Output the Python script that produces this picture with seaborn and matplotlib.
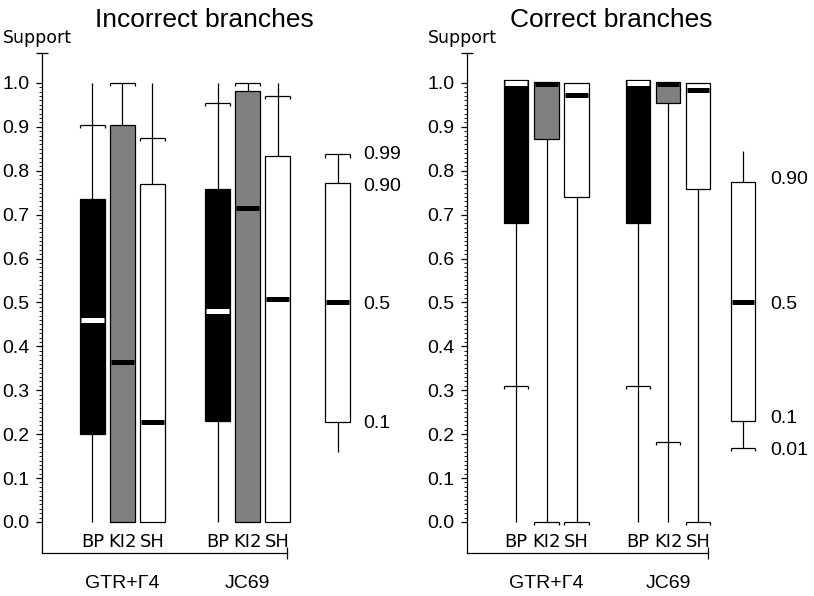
import numpy as np
import seaborn as sns
import matplotlib.pyplot as plt
from matplotlib.ticker import MultipleLocator, FixedLocator

# ---- data (support percentiles per method) ----
methods = ["BP", "KI2", "SH"]
models = ["GTR+Γ4", "JC69"]

# incorrect branches (order: GTR BP, KI2, SH, JC69 BP, KI2, SH)
inc_min = [0.0, 0.0, 0.0, 0.0, 0.0, 0.0]
inc_max = [1.0, 1.0, 1.0, 1.0, 1.0, 1.0]
inc_p01 = [None, None, None, None, None, None]
inc_p10 = [0.20, 0.0, 0.0, 0.23, 0.0, 0.0]
inc_p50 = [0.46, 0.365, 0.228, 0.48, 0.715, 0.508]
inc_p90 = [0.735, 0.905, 0.77, 0.758, 0.982, 0.833]
inc_p99 = [0.905, 1.0, 0.875, 0.955, 1.0, 0.97]

# correct branches
cor_min = [0.0, 0.0, 0.0, 0.0, 0.0, 0.0]
cor_max = [1.0, 1.0, 1.0, 1.0, 1.0, 1.0]
cor_p01 = [0.31, 0.0, 0.0, 0.31, 0.183, 0.0]
cor_p10 = [0.68, 0.872, 0.74, 0.68, 0.955, 0.758]
cor_p50 = [1.0, 0.998, 0.973, 1.0, 0.998, 0.984]
cor_p90 = [1.007, 1.003, 1.0, 1.007, 1.003, 1.0]
cor_p99 = [None, None, None, None, None, None]

# key boxes (percentile legend)
key_inc = dict(lo=0.16, hi=0.837, p01=None, p10=0.228, p50=0.50, p90=0.772, p99=0.837)
key_inc_labels = [(0.836, "0.99"), (0.765, "0.90"), (0.496, "0.5"), (0.225, "0.1")]
key_cor = dict(lo=0.168, hi=0.845, p01=0.168, p10=0.23, p50=0.50, p90=0.775, p99=None)
key_cor_labels = [(0.78, "0.90"), (0.496, "0.5"), (0.235, "0.1"), (0.163, "0.01")]

# ---- style ----
sns.set_style("ticks")
plt.rcParams["font.family"] = ["Liberation Sans", "DejaVu Sans"]
plt.rcParams.update({"text.color": "black", "axes.labelcolor": "black",
                     "xtick.color": "black", "ytick.color": "black",
                     "axes.edgecolor": "black"})

fills = ["black", "#808080", "white"]
med_cols = ["white", "black", "black"]


def cap(ax, x, y, w):
    ax.hlines(y, x - w / 2, x + w / 2, color="black", lw=0.9, zorder=1.5)
    ax.vlines([x - w / 2, x + w / 2], y - 0.007, y, color="black", lw=0.9, zorder=1.5)


def draw_box(ax, x, w, lo, hi, p01, p10, p50, p90, p99, fc, mc):
    ax.vlines(x, lo, hi, color="black", lw=0.9, zorder=1)
    ax.bar(x, p90 - p10, bottom=p10, width=w, color=fc, edgecolor="black",
           linewidth=0.9, zorder=2)
    ax.hlines(p50, x - w / 2 + 0.04, x + w / 2 - 0.04, color=mc, lw=3.6, zorder=3)
    for c in (p01, p99):
        if c is not None:
            cap(ax, x, c, w)


def panel(ax, xs, key_x, label_x, w, lo, hi, p01, p10, p50, p90, p99,
          key, key_labels, xlim):
    for i, x in enumerate(xs):
        k = i % 3
        draw_box(ax, x, w, lo[i], hi[i], p01[i], p10[i], p50[i], p90[i], p99[i],
                 fills[k], med_cols[k])
        ax.text(x, -0.057, methods[k], ha="center", va="baseline", fontsize=13,
                family=["Liberation Sans Narrow", "DejaVu Sans"])
    for g in range(2):
        ax.text(xs[3 * g + 1], -0.150, models[g], ha="center", va="baseline",
                fontsize=14)
    draw_box(ax, key_x, w, key["lo"], key["hi"], key["p01"], key["p10"],
             key["p50"], key["p90"], key["p99"], "white", "black")
    for v, t in key_labels:
        ax.text(label_x, v, t, ha="left", va="center", fontsize=14)

    ax.set_xlim(*xlim)
    ax.set_ylim(-0.0706, 1.068)
    ax.set_xticks([])
    ax.yaxis.set_major_locator(MultipleLocator(0.1))
    ax.yaxis.set_minor_locator(FixedLocator(np.arange(0, 1.001, 0.01)))
    ax.set_yticks(np.arange(0, 1.01, 0.1))
    ax.set_yticklabels([f"{v:.1f}" for v in np.arange(0, 1.01, 0.1)])
    ax.tick_params(axis="y", which="major", length=4, width=0.9, labelsize=14, pad=5)
    ax.tick_params(axis="y", which="minor", length=2, width=0.6)
    for s in ax.spines.values():
        s.set_linewidth(0.9)
    sns.despine(ax=ax)
    # end marks of the axis lines
    ax.plot([0], [1], marker="_", ms=8, mew=0.9, color="black",
            transform=ax.transAxes, clip_on=False)
    ax.plot([1], [0], marker="|", ms=8, mew=0.9, color="black",
            transform=ax.transAxes, clip_on=False)
    for c in ax.patches:
        c.set_clip_on(False)
    for c in ax.collections:
        c.set_clip_on(False)


W, H = 814, 596
fig = plt.figure(figsize=(W / 100, H / 100), dpi=100)
ax1 = fig.add_axes([42 / W, 43 / H, 245 / W, 500 / H])
ax2 = fig.add_axes([466.7 / W, 43 / H, 241.6 / W, 500 / H])

panel(ax1, [0, 1, 2, 4.167, 5.167, 6.167], 8.167, 9.02, 0.833,
      inc_min, inc_max, inc_p01, inc_p10, inc_p50, inc_p90, inc_p99,
      key_inc, key_inc_labels, (-1.683, 6.483))
panel(ax2, [0, 1.017, 2.017, 4.067, 5.067, 6.067], 7.567, 8.47, 0.82,
      cor_min, cor_max, cor_p01, cor_p10, cor_p50, cor_p90, cor_p99,
      key_cor, key_cor_labels, (-1.643, 6.41))

fig.text(204.5 / W, 1 - 27 / H, "Incorrect branches", ha="center", va="baseline", fontsize=19)
fig.text(611 / W, 1 - 27 / H, "Correct branches", ha="center", va="baseline", fontsize=19)
fig.text(3 / W, 1 - 43 / H, "Support", ha="left", va="baseline", fontsize=12.5,
         family=["DejaVu Sans"])
fig.text(428 / W, 1 - 43 / H, "Support", ha="left", va="baseline", fontsize=12.5,
         family=["DejaVu Sans"])

fig.savefig("out.png", dpi=100, facecolor="white")
